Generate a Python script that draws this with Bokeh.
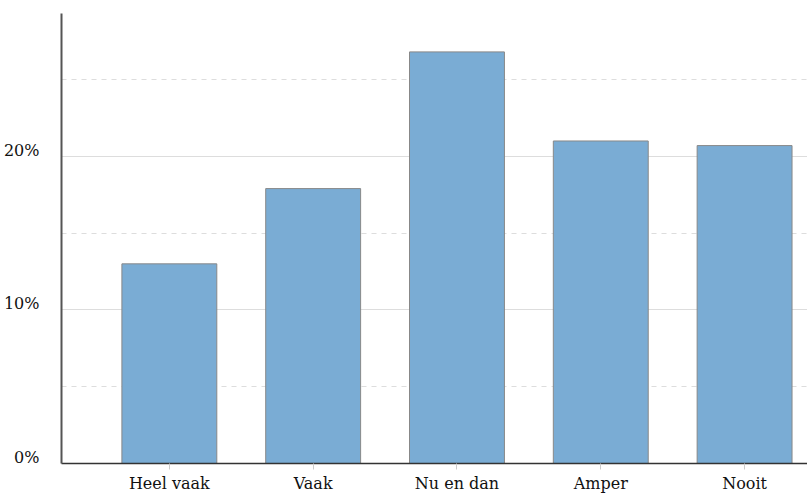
from bokeh.plotting import figure
from bokeh.models import ColumnDataSource, Range1d, FixedTicker, Grid
from bokeh.embed import file_html
from bokeh.resources import INLINE

categories = ["Heel vaak", "Vaak", "Nu en dan", "Amper", "Nooit"]
values = [13.0, 17.9, 26.8, 21.0, 20.7]
y_ticks = [0, 10, 20]
y_minor = [5, 15, 25]

xs = list(range(len(categories)))
src = ColumnDataSource(data=dict(x=xs, top=values))

p = figure(width=807, height=495, output_backend="svg", toolbar_location=None,
           x_range=Range1d(-0.75, 4.4375), y_range=Range1d(0, 29.3),
           min_border_left=60, min_border_right=0, min_border_top=13, min_border_bottom=32)
p.outline_line_color = None
p.background_fill_color = "white"

p.vbar(x="x", top="top", width=0.66, source=src, fill_color="#7aacd4",
       line_color="#888888", line_width=1)

font = "DejaVu Serif"
p.xaxis.ticker = FixedTicker(ticks=xs)
p.xaxis.major_label_overrides = {i: c for i, c in enumerate(categories)}
p.xaxis.major_tick_line_color = "#cccccc"
p.xaxis.major_tick_out = 6
p.xaxis.major_tick_in = 0
p.xaxis.minor_tick_line_color = None
p.xaxis.axis_line_color = "#333333"
p.xaxis.axis_line_width = 1.5
p.xaxis.major_label_text_font = font
p.xaxis.major_label_text_font_size = "16px"
p.xaxis.major_label_text_color = "#111111"
p.xaxis.major_label_standoff = 4

# labels sit slightly above their gridline in the reference
label_pos = [t + 0.4 for t in y_ticks]
p.yaxis.ticker = FixedTicker(ticks=label_pos)
p.yaxis.major_label_overrides = {lp: f"{t}%" for lp, t in zip(label_pos, y_ticks)}
p.yaxis.major_tick_line_color = None
p.yaxis.minor_tick_line_color = None
p.yaxis.axis_line_color = "#555555"
p.yaxis.axis_line_width = 2
p.yaxis.major_label_text_font = font
p.yaxis.major_label_text_font_size = "16px"
p.yaxis.major_label_text_color = "#111111"
p.yaxis.major_label_standoff = 16

p.xgrid.grid_line_color = None
p.ygrid.ticker = FixedTicker(ticks=[10, 20])
p.ygrid.grid_line_color = "#dddddd"
p.ygrid.grid_line_width = 1

g2 = Grid(dimension=1, ticker=FixedTicker(ticks=y_minor), grid_line_color="#dddddd",
          grid_line_dash="5 5", grid_line_width=1)
p.add_layout(g2)

open("out.html", "w").write(file_html(p, INLINE))
